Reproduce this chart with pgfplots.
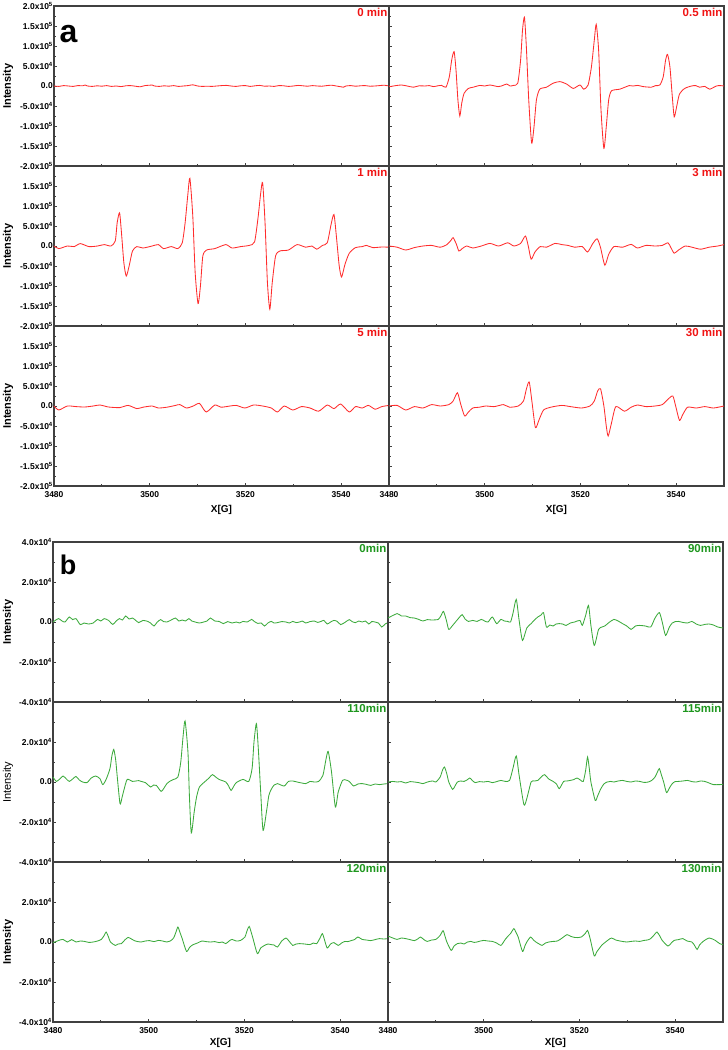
\documentclass[border=0pt]{standalone}
\usepackage{fontspec}
\setmainfont{Liberation Sans}
\usepackage{pgfplots}
\pgfplotsset{compat=1.18}
\definecolor{eprred}{RGB}{255,45,45}
\definecolor{labred}{RGB}{240,20,20}
\definecolor{eprgreen}{RGB}{60,170,60}
\definecolor{labgreen}{RGB}{30,150,30}
\newcommand\sci[2]{#1x10\textsuperscript{#2}}
\pgfplotsset{
 epr/.style={scale only axis, width=335pt, height=160pt, xmin=3480, xmax=3550,
  xtick={3480,3500,3520,3540}, minor x tick num=1, minor y tick num=1,
  tick align=inside, tick pos=left, clip=false,
  axis line style={black!75, line width=1.1pt},
  tick style={black!75, line width=0.8pt}, major tick length=3pt, minor tick length=2pt,
  ticklabel style={font=\bfseries\fontsize{8.5}{9}\selectfont, inner sep=1pt},
  xticklabel style={yshift=-4pt},
  xticklabels={}, yticklabels={}, anchor=north west},
 xlab/.style={xticklabels={3480,3500,3520,3540}},
 ya/.style={ymin=-20, ymax=20, ytick={-20,-15,-10,-5,0,5,10,15,20}},
 yb/.style={ymin=-4, ymax=4, ytick={-4,-2,0,2,4}},
 yaLfull/.style={yticklabels={\sci{-2.0}{5},\sci{-1.5}{5},\sci{-1.0}{5},\sci{-5.0}{4},0.0,\sci{5.0}{4},\sci{1.0}{5},\sci{1.5}{5},\sci{2.0}{5}}},
 yaL/.style={yticklabels={\sci{-2.0}{5},\sci{-1.5}{5},\sci{-1.0}{5},\sci{-5.0}{4},0.0,\sci{5.0}{4},\sci{1.0}{5},\sci{1.5}{5},{}}},
 ybLfull/.style={yticklabels={\sci{-4.0}{4},\sci{-2.0}{4},0.0,\sci{2.0}{4},\sci{4.0}{4}}},
 ybL/.style={yticklabels={\sci{-4.0}{4},\sci{-2.0}{4},0.0,\sci{2.0}{4},{}}},
 rl/.style={eprred, line width=0.85pt, smooth, tension=0.4},
 gl/.style={eprgreen, line width=0.85pt, smooth, tension=0.4},
}
\newcommand\tlab[2]{\node[anchor=north east, font=\bfseries\fontsize{11.5}{12}\selectfont, text=#1, inner sep=1.5pt] at (rel axis cs:1,1) {#2};}
\newcommand\ilab[2]{\node[rotate=90, font=#2\fontsize{11}{11}\selectfont] at (axis description cs:#1,0.5) {Intensity};}
\newcommand\xlabG[1]{\node[font=\bfseries\fontsize{10}{10}\selectfont] at (axis description cs:0.5,#1) {X[G]};}
\begin{document}
\begin{tikzpicture}
\useasboundingbox (0,0) rectangle (728pt,-1050pt);
% ---------------- panel a ----------------
\begin{axis}[epr, ya, yaLfull, at={(54pt,-6pt)}]
\addplot[rl] coordinates {(3480,0)(3481,-0.1)(3482,0.1)(3483,0)(3484,-0.1)(3485,0.1)(3486,0.05)(3486.5,0.25)(3487,0)(3488,-0.1)(3489,0.05)(3490,-0.05)(3491,0.1)(3492,-0.1)(3493,0)(3494,-0.15)(3495,0.05)(3496,0.1)(3497,-0.05)(3498,-0.2)(3499,0.1)(3500,0.2)(3500.5,0.25)(3501,0)(3502,-0.1)(3503,0.05)(3504,-0.05)(3505,0.1)(3506,-0.1)(3507,0)(3508,0.1)(3509,0.3)(3510,0)(3511,-0.1)(3512,-0.05)(3513,-0.1)(3514,0)(3515,0.1)(3516,0.15)(3517,0)(3518,-0.1)(3519,0.05)(3520,0.1)(3521,-0.1)(3522,0.05)(3523,0.15)(3524,-0.05)(3525,0)(3526,-0.1)(3527,0.1)(3528,0.05)(3529,-0.1)(3530,0)(3531,0.15)(3532,0.05)(3533,-0.05)(3534,0.1)(3535,0)(3536,-0.05)(3537,0.1)(3538,0.2)(3539,0)(3540,-0.2)(3540.5,-0.3)(3541,0)(3542,0.1)(3543,-0.05)(3544,0.05)(3545,0.1)(3546,-0.05)(3547,0)(3548,0.1)(3549,0.2)(3550,0)};
\tlab{labred}{0 min}
\ilab{-0.137}{\bfseries}
\node[anchor=base west, font=\bfseries\fontsize{32}{32}\selectfont, inner sep=0pt] at (axis description cs:0.016,0.775) {a};
\end{axis}
\begin{axis}[epr, ya, at={(389pt,-6pt)}]
\addplot[rl] coordinates {(3480,0)(3480.2,-0.15)(3481.4,0.1)(3482.6,0.25)(3483.8,0)(3485.1,-0.3)(3486.3,0.05)(3487.5,0)(3488.4,0.1)(3489.3,-0.15)(3490.2,0.05)(3491.0,0.15)(3491.9,-0.3)(3492.6,2.3)(3493.1,6.5)(3493.6,8.6)(3494.0,4.0)(3494.4,-3.5)(3494.8,-7.5)(3495.2,-4.3)(3495.7,-1.8)(3496.6,-0.6)(3497.6,-0.3)(3499.0,0.15)(3500.0,0)(3501.1,0.25)(3502.8,-0.15)(3503.7,0.1)(3504.6,0.5)(3505.3,0)(3506.0,0.15)(3506.9,0.7)(3507.5,6.5)(3507.9,14)(3508.3,17.2)(3508.7,9.8)(3509.2,-3.5)(3509.8,-14.2)(3510.3,-10.2)(3510.8,-3.5)(3511.5,-0.8)(3512.9,-0.3)(3514.3,0.7)(3515.7,1.1)(3517.1,0.5)(3518.5,-0.6)(3519.9,0.25)(3520.7,-0.8)(3521.6,0.25)(3522.3,4.8)(3522.9,11.5)(3523.3,15.4)(3523.8,9)(3524.3,-6)(3524.9,-15.6)(3525.4,-10.2)(3525.9,-3.5)(3526.5,-1.2)(3528.2,-0.8)(3529.3,-0.3)(3530.2,0.1)(3531.0,0)(3532.0,0.15)(3533.1,-0.15)(3534.8,-0.3)(3535.7,0.1)(3536.6,0.25)(3537.3,2.3)(3537.8,6.5)(3538.2,7.9)(3538.7,4.8)(3539.2,-2.7)(3539.6,-7.7)(3540.1,-5.2)(3540.7,-2)(3541.8,-0.6)(3543.2,0)(3544.1,0.1)(3544.9,-0.3)(3546.0,-0.1)(3547.0,-0.8)(3548.4,0)(3549.2,0.1)(3550,0)};
\tlab{labred}{0.5 min}
\end{axis}
\begin{axis}[epr, ya, yaL, at={(54pt,-166pt)}]
\addplot[rl] coordinates {(3480,0)(3481.0,-0.65)(3482.8,0)(3484.2,-0.15)(3485.5,0.6)(3487.3,-0.15)(3489.1,0)(3490.5,0.35)(3491.9,0)(3492.8,1.25)(3493.2,5.8)(3493.7,8.3)(3494.1,3.3)(3494.6,-4.2)(3495.1,-7.5)(3495.7,-5)(3496.4,-1.25)(3497.3,-0.15)(3498.6,-0.5)(3500.5,0)(3501.8,0.35)(3502.9,-0.65)(3504.5,-0.15)(3505.9,-0.65)(3506.8,0.8)(3507.4,5.8)(3508.0,13.3)(3508.4,16.9)(3509.0,7.5)(3509.5,-6.7)(3510.1,-14.4)(3510.6,-10)(3511.1,-2.5)(3511.9,-1.0)(3513.6,-0.65)(3515.9,0.35)(3517.2,-0.5)(3519.0,-0.15)(3520.8,0.15)(3521.9,1.0)(3522.6,6.7)(3523.2,13.3)(3523.6,15.8)(3524.1,5.8)(3524.6,-9.2)(3525.1,-15.8)(3525.6,-9.2)(3526.3,-2.5)(3527.2,-1.25)(3529.0,-1.0)(3530.8,0.35)(3532.6,-0.3)(3533.9,0)(3534.9,-0.8)(3536.1,0.15)(3537.1,0.8)(3537.9,5.4)(3538.5,7.9)(3539.0,2.5)(3539.6,-5)(3540.1,-7.75)(3540.8,-4.6)(3541.7,-1.8)(3543.0,-0.4)(3544.4,-0.15)(3545.3,0.15)(3546.6,-0.4)(3548.5,-0.25)(3550,-0.3)};
\tlab{labred}{1 min}
\ilab{-0.137}{\bfseries}
\end{axis}
\begin{axis}[epr, ya, at={(389pt,-166pt)}]
\addplot[rl] coordinates {(3480,0)(3481.7,-0.3)(3483.5,-1.0)(3485.3,-0.4)(3487.1,0)(3488.9,0.15)(3490.7,-0.3)(3492.1,0.35)(3493.0,1.5)(3493.4,2.1)(3494.1,0.4)(3494.6,-1.25)(3495.3,-0.65)(3496.2,0)(3497.5,-0.5)(3499.3,0)(3501.1,0.65)(3502.9,0)(3504.8,0.8)(3506.1,0)(3507.5,0.65)(3508.5,2.5)(3509.1,0)(3509.7,-3.3)(3510.5,-1.5)(3511.6,-0.15)(3512.9,-0.3)(3514.7,0.65)(3516.1,0.35)(3517.4,0.15)(3518.8,-0.3)(3520.4,-0.15)(3521.5,-1.5)(3522.6,0.65)(3523.5,1.8)(3524.2,-0.4)(3525.1,-4.8)(3525.9,-2.1)(3527.0,-0.15)(3528.8,-0.3)(3530.6,0.4)(3531.9,-0.5)(3533.7,0.15)(3535.6,0)(3537.1,0.15)(3538.3,0.8)(3538.9,-0.4)(3539.6,-1.8)(3540.5,-1.0)(3541.9,0)(3543.3,-0.3)(3545.1,-0.8)(3546.9,-0.3)(3548.7,0)(3550,0.35)};
\tlab{labred}{3 min}
\end{axis}
\begin{axis}[epr, ya, yaL, xlab, at={(54pt,-326pt)}]
\addplot[rl] coordinates {(3480,0)(3481.0,-1.0)(3482.8,0)(3484.6,-0.15)(3486.4,-0.25)(3488.2,0)(3489.6,0.25)(3491.4,-0.25)(3493.7,-0.4)(3495.5,0.15)(3497.3,-0.65)(3498.6,-0.3)(3500.5,0)(3501.8,-0.5)(3503.6,-0.3)(3505.4,0.15)(3506.3,0.35)(3507.7,-0.5)(3509.1,0)(3510.4,0.65)(3511.8,-1.5)(3513.6,0.25)(3514.9,-0.3)(3516.8,0)(3518.1,0.15)(3519.9,-0.5)(3521.7,0.25)(3523.6,0)(3525.4,-0.5)(3526.7,-1.5)(3528.1,0)(3529.9,-1.0)(3531.7,-0.15)(3533.5,-0.5)(3535.3,-1.3)(3537.1,0.25)(3538.5,-0.65)(3539.9,0.5)(3541.7,-1.5)(3543.0,-0.15)(3544.4,-0.5)(3545.7,0.15)(3547.1,-0.8)(3548.5,-0.15)(3550,0.15)};
\tlab{labred}{5 min}
\ilab{-0.137}{\bfseries}
\xlabG{-0.15}
\end{axis}
\begin{axis}[epr, ya, xlab, at={(389pt,-326pt)}]
\addplot[rl] coordinates {(3480,0)(3481.7,0.15)(3483.5,-1.0)(3485.3,-0.15)(3487.1,-0.5)(3488.9,0.35)(3490.7,0)(3492.5,0.35)(3493.4,1.25)(3494.3,3.3)(3495.0,0.4)(3495.8,-2.5)(3496.6,-1.5)(3497.5,-0.5)(3498.9,-0.3)(3500.2,0)(3502.0,-0.15)(3503.9,0.35)(3505.2,-0.3)(3507.0,0)(3508.1,1.25)(3508.7,4.2)(3509.3,6.0)(3509.9,0.8)(3510.6,-5.4)(3511.4,-3.3)(3512.3,-1.0)(3513.8,-0.3)(3516.1,0.15)(3517.9,-0.15)(3520.2,-0.5)(3522.0,0)(3522.9,1.25)(3523.6,3.75)(3524.2,4.3)(3524.9,0)(3525.4,-5)(3525.8,-7.5)(3526.5,-4.2)(3527.4,-0.15)(3529.2,-1.3)(3530.6,-0.3)(3531.9,0.25)(3533.7,-0.15)(3535.6,0)(3537.1,0.35)(3538.3,1.7)(3539.3,2.5)(3539.9,0)(3540.7,-3.6)(3541.4,-2.1)(3542.4,-0.3)(3544.2,-0.5)(3546.0,-0.15)(3547.8,-0.5)(3550,0)};
\tlab{labred}{30 min}
\xlabG{-0.15}
\end{axis}
% ---------------- panel b ----------------
\begin{axis}[epr, yb, ybLfull, at={(53pt,-542pt)}]
\addplot[gl] coordinates {(3480,0)(3480.6,0.1)(3481.2,0.17)(3481.9,0.05)(3482.5,0)(3483.4,0.25)(3484.1,0.12)(3484.8,0.17)(3485.7,-0.13)(3486.5,-0.05)(3487.4,-0.1)(3488.4,-0.05)(3489.3,0.13)(3490.0,0.05)(3490.7,0.17)(3491.6,0.08)(3492.5,-0.12)(3493.2,0.05)(3493.9,0.17)(3494.5,0.1)(3495.2,0.3)(3495.9,0.15)(3496.6,0.2)(3497.2,0.1)(3497.9,-0.03)(3498.8,0.08)(3499.8,0.03)(3500.4,-0.05)(3501.1,-0.2)(3501.8,0)(3502.5,0.12)(3503.1,0.02)(3503.8,0)(3504.7,0.1)(3505.6,0.2)(3506.3,0.05)(3507.0,0.1)(3507.7,0.05)(3508.4,0.17)(3509.0,0.05)(3509.7,0)(3510.6,-0.05)(3511.5,0)(3512.2,0.05)(3512.9,0.2)(3513.8,0.05)(3514.7,0.03)(3515.6,-0.08)(3516.5,0.02)(3517.4,-0.05)(3518.3,0)(3519.0,-0.05)(3519.7,0.03)(3520.6,0)(3521.5,0.13)(3522.1,0.02)(3522.8,-0.07)(3523.5,-0.05)(3524.2,-0.2)(3524.9,-0.05)(3525.6,0.03)(3526.2,-0.05)(3526.9,-0.03)(3527.8,0.02)(3528.7,0)(3529.4,-0.05)(3530.1,0.03)(3530.8,-0.03)(3531.5,0)(3532.1,0.05)(3532.8,-0.05)(3533.7,0.02)(3534.6,0.05)(3535.3,-0.02)(3536.0,0.03)(3536.6,0.08)(3537.3,-0.1)(3538.0,0)(3538.7,0.08)(3539.4,0.03)(3540.1,-0.13)(3541.0,-0.02)(3541.9,0.12)(3542.5,0.02)(3543.2,-0.03)(3543.9,0.05)(3544.6,0)(3545.3,0.05)(3546.0,-0.1)(3546.6,0.02)(3547.3,0)(3548.0,-0.05)(3548.7,-0.25)(3549.4,-0.1)(3550,-0.03)};
\tlab{labgreen}{0min}
\ilab{-0.134}{\bfseries}
\node[anchor=base west, font=\bfseries\fontsize{27}{27}\selectfont, inner sep=0pt] at (axis description cs:0.02,0.794) {b};
\end{axis}
\begin{axis}[epr, yb, at={(388pt,-542pt)}]
\addplot[gl] coordinates {(3480,0.2)(3481.9,0.42)(3482.8,0.3)(3483.7,0.3)(3484.6,0.22)(3485.5,0.2)(3486.4,0.13)(3487.3,0.05)(3488.2,0.12)(3489.1,0.1)(3490.5,0.13)(3491.1,0.33)(3491.6,0.53)(3492.2,0.08)(3492.7,-0.37)(3493.5,-0.17)(3494.1,0)(3494.8,0.2)(3495.5,0.37)(3496.1,0.15)(3496.8,0.03)(3497.7,0.08)(3498.6,0.03)(3499.5,0.13)(3500.2,0.05)(3500.9,0)(3501.8,0.25)(3502.7,-0.08)(3503.6,0.13)(3504.3,0.05)(3505.0,0.03)(3505.6,0)(3506.1,0.42)(3506.8,1.13)(3507.4,0.08)(3508.1,-0.92)(3509.0,-0.3)(3509.9,-0.08)(3510.6,0.1)(3511.3,0.25)(3512.0,0.35)(3512.5,0.47)(3513.1,-0.25)(3513.8,-0.15)(3514.5,-0.2)(3515.1,-0.1)(3515.8,-0.08)(3516.5,-0.1)(3517.2,-0.17)(3518.1,-0.05)(3519.0,0)(3520.1,0.08)(3520.6,-0.17)(3521.3,0.33)(3521.9,0.83)(3522.4,-0.17)(3523.1,-1.17)(3524.0,-0.37)(3524.7,-0.25)(3525.3,-0.2)(3526.2,-0.02)(3527.2,0.13)(3528.1,0.05)(3529.0,-0.08)(3529.9,-0.2)(3530.8,-0.37)(3531.7,-0.2)(3532.6,-0.17)(3533.8,-0.2)(3534.9,-0.25)(3535.8,0.2)(3536.7,0.47)(3537.3,0)(3538.0,-0.67)(3538.8,-0.25)(3539.4,-0.05)(3540.0,0.02)(3540.7,0.03)(3541.6,-0.02)(3542.6,-0.05)(3543.5,0.03)(3544.4,-0.1)(3545.3,-0.17)(3546.2,-0.12)(3547.1,-0.1)(3548.0,-0.15)(3548.9,-0.25)(3550,-0.3)};
\tlab{labgreen}{90min}
\end{axis}
\begin{axis}[epr, yb, ybL, at={(53pt,-702pt)}]
\addplot[gl] coordinates {(3480,0.25)(3480.7,0.03)(3481.4,0.15)(3482.1,0.3)(3482.8,0.15)(3483.4,0.03)(3484.1,0.15)(3484.8,0.28)(3485.5,0.1)(3486.2,0)(3487.1,-0.03)(3488.0,0.2)(3488.9,0.3)(3489.8,0.17)(3490.4,-0.13)(3491.1,0.13)(3491.9,0.67)(3492.3,1.3)(3492.7,1.63)(3493.1,1.1)(3493.4,0.33)(3494.0,-1.08)(3494.4,-0.8)(3494.8,-0.42)(3495.5,0.13)(3496.6,0.03)(3497.9,0.07)(3498.6,0.02)(3499.3,-0.03)(3500.4,-0.25)(3501.0,-0.15)(3501.6,-0.17)(3502.6,-0.47)(3503.2,-0.3)(3503.8,-0.08)(3504.5,0.05)(3505.2,0.13)(3506.1,0.25)(3506.7,1.0)(3507.2,2.33)(3507.6,3.05)(3508.2,1.5)(3508.5,-0.67)(3508.9,-2.55)(3509.5,-1.5)(3510.0,-0.75)(3510.6,-0.25)(3511.8,0.03)(3512.6,0.2)(3513.3,0.37)(3514.0,0.25)(3514.7,0.13)(3516.1,0)(3516.7,-0.2)(3517.2,-0.42)(3517.8,-0.2)(3518.3,-0.03)(3519.7,0.13)(3520.9,0.03)(3521.6,0.67)(3522.0,2.0)(3522.5,2.92)(3522.9,1.67)(3523.4,-0.5)(3523.9,-2.42)(3524.7,-1.33)(3525.1,-0.67)(3525.6,-0.37)(3526.2,-0.15)(3526.9,-0.08)(3528.3,-0.2)(3529.2,0.03)(3530.1,0.05)(3531.0,0)(3532.8,-0.08)(3533.7,0.03)(3534.6,0)(3535.5,0.03)(3536.4,0.33)(3537.0,1.08)(3537.5,1.53)(3538.2,0.5)(3539.0,-1.25)(3539.6,-0.5)(3540.5,0.08)(3541.2,0.1)(3541.9,0.03)(3542.8,-0.2)(3543.7,-0.1)(3544.6,-0.08)(3545.5,-0.12)(3546.4,-0.17)(3547.3,-0.1)(3548.2,-0.13)(3549.1,-0.1)(3550,-0.08)};
\tlab{labgreen}{110min}
\ilab{-0.134}{\mdseries}
\end{axis}
\begin{axis}[epr, yb, at={(388pt,-702pt)}]
\addplot[gl] coordinates {(3480,0)(3481.0,0.03)(3481.9,0)(3482.8,0.02)(3483.7,-0.05)(3484.6,0.02)(3485.5,0)(3486.4,-0.03)(3487.3,-0.08)(3488.0,-0.02)(3488.7,0.03)(3489.4,0.05)(3490.0,0)(3490.9,0.25)(3491.4,0.6)(3491.8,0.75)(3492.3,0.4)(3492.7,0)(3493.5,-0.37)(3494.0,-0.2)(3494.5,0)(3495.2,0.05)(3495.9,0.03)(3496.5,0.1)(3497.1,0.2)(3497.6,0.08)(3498.2,-0.03)(3499.1,0.02)(3500.0,0)(3500.9,0.03)(3501.8,-0.03)(3502.7,0.02)(3503.6,0.08)(3504.5,0.03)(3505.4,0.08)(3506.1,0.67)(3506.8,1.3)(3507.4,0.33)(3508.4,-1.13)(3509.0,-0.83)(3509.9,0)(3510.6,0.05)(3511.3,0.08)(3512.0,0.25)(3512.7,0.37)(3513.6,0.15)(3514.5,0.03)(3515.2,-0.1)(3515.8,-0.33)(3516.7,0.03)(3517.4,0.05)(3518.1,0.08)(3518.8,0.12)(3519.5,0.2)(3520.2,0.1)(3520.8,0.03)(3521.3,0.58)(3521.7,1.25)(3522.1,0.6)(3522.4,0)(3523.3,-0.92)(3523.8,-0.7)(3524.4,-0.37)(3525.1,-0.1)(3525.8,0)(3526.5,0.03)(3527.2,0)(3528.1,0.05)(3529.0,0.08)(3529.9,0.03)(3530.8,0)(3531.7,0.05)(3532.6,0.03)(3533.5,-0.02)(3534.4,0)(3535.1,0.08)(3535.8,0.25)(3536.3,0.5)(3536.7,0.67)(3537.2,0.3)(3537.6,0)(3538.2,-0.53)(3538.8,-0.3)(3539.4,-0.08)(3540.0,0.02)(3540.7,0.03)(3541.6,0.05)(3542.6,0.08)(3543.5,0.02)(3544.4,0)(3545.3,0.05)(3546.2,0.03)(3547.1,-0.05)(3548.0,-0.13)(3549.3,-0.13)(3550,-0.12)};
\tlab{labgreen}{115min}
\end{axis}
\begin{axis}[epr, yb, ybL, xlab, at={(53pt,-862pt)}]
\addplot[gl] coordinates {(3480,-0.03)(3480.6,0.02)(3481.2,0.08)(3482.1,0.13)(3483.0,0)(3483.9,0.12)(3484.8,0)(3485.7,0.05)(3486.6,0.03)(3487.5,-0.02)(3488.4,0)(3489.3,0.05)(3490.1,0.13)(3490.7,0.33)(3491.1,0.5)(3491.6,0.25)(3492.0,0)(3493.0,-0.17)(3493.6,-0.1)(3494.3,-0.08)(3495.0,0.1)(3495.7,0.23)(3496.4,0.15)(3497.0,0.07)(3497.7,0.02)(3498.4,0)(3499.3,0.05)(3500.2,0.07)(3501.1,0.02)(3502.0,0.08)(3502.9,0.05)(3503.8,0)(3504.5,0.05)(3505.2,0.2)(3505.7,0.5)(3506.1,0.75)(3506.5,0.5)(3507.0,0.17)(3507.9,-0.47)(3508.6,-0.25)(3509.3,-0.13)(3510.2,-0.05)(3511.1,0.05)(3512.0,0.02)(3512.9,0)(3513.8,0.02)(3514.7,-0.03)(3515.4,0)(3516.1,-0.08)(3516.8,0.05)(3517.4,0.13)(3518.3,0.05)(3519.2,0.08)(3520.1,0.25)(3520.6,0.6)(3521.0,0.78)(3521.4,0.5)(3521.8,0.17)(3522.7,-0.58)(3523.4,-0.3)(3524.2,-0.17)(3524.9,-0.1)(3525.6,-0.13)(3526.2,-0.15)(3526.9,-0.25)(3527.8,0.05)(3528.7,0.2)(3529.4,0.02)(3530.1,-0.17)(3530.8,-0.1)(3531.5,-0.08)(3532.6,-0.1)(3533.7,-0.13)(3534.4,-0.05)(3535.1,-0.08)(3535.8,0.2)(3536.3,0.42)(3536.8,0.05)(3537.3,-0.3)(3538.0,-0.1)(3538.7,-0.03)(3539.6,-0.17)(3540.3,-0.05)(3541.0,0.03)(3541.6,0.02)(3542.3,0.07)(3543.0,0.12)(3543.7,0.25)(3544.6,0.13)(3545.5,0.1)(3546.4,0.07)(3547.3,0.12)(3548.2,0.17)(3549.1,0.15)(3550,0.17)};
\tlab{labgreen}{120min}
\ilab{-0.134}{\bfseries}
\xlabG{-0.13}
\end{axis}
\begin{axis}[epr, yb, xlab, at={(388pt,-862pt)}]
\addplot[gl] coordinates {(3480,0.3)(3481.0,0.2)(3481.9,0.13)(3482.8,0.2)(3483.7,0.17)(3484.6,0.12)(3485.5,0.07)(3486.2,0.15)(3486.8,0.25)(3487.5,0.12)(3488.2,0.03)(3489.1,0.1)(3490.0,0.13)(3490.9,0.33)(3491.5,0.57)(3491.9,0.3)(3492.3,0)(3493.2,-0.42)(3493.8,-0.2)(3494.5,-0.08)(3495.2,-0.05)(3495.9,-0.1)(3496.6,0)(3497.3,0.03)(3498.0,-0.02)(3498.6,0)(3499.3,0.05)(3500.0,0.08)(3500.9,0.05)(3501.8,0.03)(3502.7,-0.05)(3503.6,-0.17)(3504.5,0.13)(3505.1,0.3)(3505.6,0.42)(3506.3,0.67)(3506.7,0.5)(3507.2,0.25)(3508.1,-0.47)(3508.6,-0.2)(3509.0,0)(3509.8,0.25)(3510.4,0.1)(3510.9,0)(3511.6,-0.1)(3512.2,-0.17)(3512.9,-0.05)(3513.6,0)(3514.5,0.03)(3515.4,0.05)(3516.4,0.2)(3517.4,0.37)(3518.2,0.28)(3519.0,0.23)(3519.7,0.22)(3520.4,0.25)(3521.2,0.42)(3521.7,0.58)(3522.1,0.3)(3522.4,0)(3523.1,-0.7)(3523.6,-0.5)(3524.0,-0.37)(3524.7,-0.15)(3525.3,-0.03)(3526.0,0.1)(3526.7,0.2)(3527.6,0.1)(3528.5,0.05)(3529.2,0.02)(3529.9,0)(3530.8,0.03)(3531.7,0.05)(3532.6,0.03)(3533.5,0.08)(3534.2,0.1)(3534.9,0.17)(3535.6,0.35)(3536.2,0.5)(3536.8,0.3)(3537.3,0.08)(3538.5,-0.2)(3539.2,-0.05)(3539.8,0.08)(3540.7,0.12)(3541.6,0.17)(3542.5,0.05)(3543.5,0)(3544.0,-0.15)(3544.6,-0.37)(3545.1,-0.15)(3545.7,0)(3546.4,0.12)(3547.1,0.2)(3547.8,0.15)(3548.4,0.08)(3549.3,-0.08)(3550,-0.13)};
\tlab{labgreen}{130min}
\xlabG{-0.13}
\end{axis}
\end{tikzpicture}
\end{document}
